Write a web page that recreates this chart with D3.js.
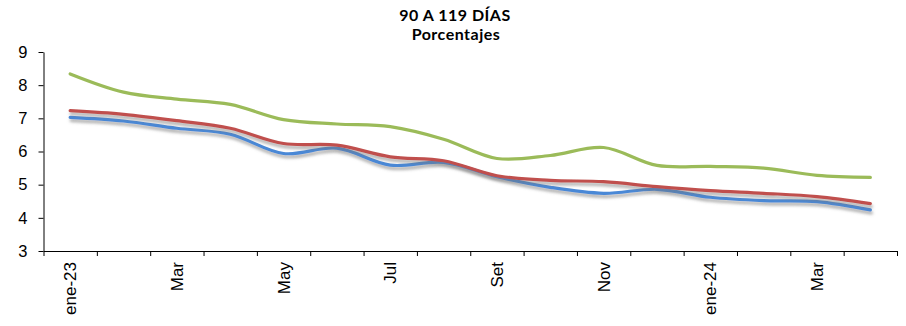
<!DOCTYPE html>
<html>
<head>
<meta charset="utf-8">
<script src="https://cdn.jsdelivr.net/npm/d3@7"></script>
<style>
  body { margin: 0; background: #fff; }
  svg { display: block; }
  .axis text { font-family: "Liberation Sans", Arial, sans-serif; fill: #000; }
  .title { font-family: Lato, "Open Sans", sans-serif; font-weight: bold; font-size: 16px; letter-spacing: 0.5px; fill: #000; }
</style>
</head>
<body>
<svg id="chart" width="906" height="326"></svg>
<script>
// Monthly periods, January 2023 to April 2024
const months = ["ene-23", "feb-23", "mar-23", "abr-23", "may-23", "jun-23", "jul-23", "ago-23",
                "set-23", "oct-23", "nov-23", "dic-23", "ene-24", "feb-24", "mar-24", "abr-24"];
// Axis labels (every other month is labelled)
const monthLabels = ["ene-23", "", "Mar", "", "May", "", "Jul", "", "Set", "", "Nov", "", "ene-24", "", "Mar", ""];
const yTicks = [3, 4, 5, 6, 7, 8, 9];

// Rates in percent
const seriesBlue  = [7.03, 6.92, 6.70, 6.52, 5.94, 6.10, 5.59, 5.67, 5.24, 4.92, 4.74, 4.86, 4.62, 4.52, 4.49, 4.24];
const seriesRed   = [7.23, 7.12, 6.93, 6.70, 6.24, 6.19, 5.84, 5.72, 5.27, 5.13, 5.09, 4.94, 4.82, 4.74, 4.64, 4.43];
const seriesGreen = [8.34, 7.79, 7.58, 7.42, 6.96, 6.83, 6.75, 6.37, 5.79, 5.88, 6.12, 5.58, 5.55, 5.50, 5.28, 5.22];

const svg = d3.select("#chart");
const plotLeft = 43.5, plotRight = 897, plotTop = 52, plotBottom = 251;

const x = d3.scaleBand().domain(months).range([plotLeft, plotRight]).padding(0);
const xBound = d3.scaleLinear().domain([0, months.length]).range([plotLeft, plotRight]);
const y = d3.scaleLinear().domain([3, 9]).range([plotBottom, plotTop]);
const cx = m => x(m) + x.bandwidth() / 2;

// Drop shadow for the two lower lines
const defs = svg.append("defs");
const f = defs.append("filter").attr("id", "shadow")
  .attr("x", "-5%").attr("y", "-50%").attr("width", "110%").attr("height", "200%");
f.append("feDropShadow").attr("dx", 1).attr("dy", 3).attr("stdDeviation", 1.4)
  .attr("flood-color", "#777").attr("flood-opacity", 0.6);

// Title
svg.append("text").attr("class", "title").attr("x", 455).attr("y", 20.5)
  .attr("text-anchor", "middle").text("90 A 119 DÍAS");
svg.append("text").attr("class", "title").attr("x", 456).attr("y", 39.5)
  .attr("text-anchor", "middle").text("Porcentajes");

// Y axis
const yAxis = svg.append("g").attr("class", "axis")
  .attr("transform", `translate(${plotLeft},0)`)
  .call(d3.axisLeft(y).tickValues(yTicks).tickFormat(d3.format("d")).tickSizeInner(5).tickSizeOuter(0).tickPadding(11));
yAxis.selectAll("text").style("font-size", "16.5px");

// X axis: tick marks on month boundaries
svg.append("g").attr("class", "axis")
  .attr("transform", `translate(0,${plotBottom})`)
  .call(d3.axisBottom(xBound).tickValues(d3.range(months.length + 1)).tickFormat("").tickSizeInner(5).tickSizeOuter(0));

// X axis: month labels at band centres, rotated
const xLab = svg.append("g").attr("class", "axis")
  .attr("transform", `translate(0,${plotBottom})`)
  .call(d3.axisBottom(x).tickSize(0).tickFormat((d, i) => monthLabels[i]));
xLab.select(".domain").remove();
xLab.selectAll("text")
  .style("font-size", "17px")
  .attr("transform", "rotate(-90)")
  .attr("text-anchor", "end")
  .attr("x", -11)
  .attr("y", 0)
  .attr("dy", "0.36em");

svg.selectAll(".axis path, .axis line").attr("stroke", "#000").attr("stroke-width", 1);

// Lines
const line = d3.line().x((d, i) => cx(months[i])).y(d => y(d)).curve(d3.curveCatmullRom.alpha(0.5));
const series = [
  { values: seriesBlue,  color: "#4A88D6", shadow: true },
  { values: seriesRed,   color: "#C0504D", shadow: true },
  { values: seriesGreen, color: "#9BBB59", shadow: false }
];
series.forEach(s => {
  svg.append("path")
    .datum(s.values)
    .attr("d", line)
    .attr("fill", "none")
    .attr("stroke", s.color)
    .attr("stroke-width", 3.2)
    .attr("stroke-linejoin", "round")
    .attr("stroke-linecap", "round")
    .attr("filter", s.shadow ? "url(#shadow)" : null);
});
</script>
</body>
</html>
